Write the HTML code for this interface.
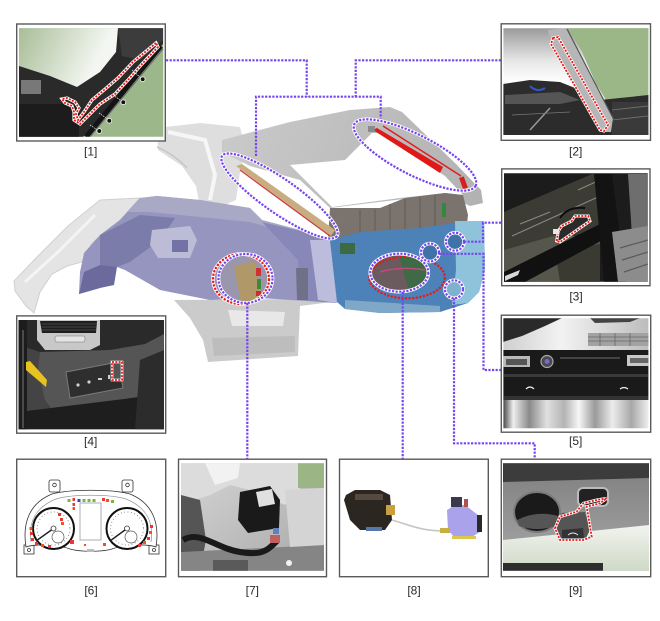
<!DOCTYPE html>
<html><head><meta charset="utf-8"><style>
html,body{margin:0;padding:0;background:#fff;}
svg{display:block;}
text{font-family:"Liberation Sans",Arial,sans-serif;font-size:12px;fill:#2a2a2a;}
</style></head><body>
<svg width="660" height="621" viewBox="0 0 660 621" xmlns="http://www.w3.org/2000/svg">
<defs>
<clipPath id="c1"><rect x="19" y="28.3" width="144.3" height="108.4"/></clipPath>
<clipPath id="c2"><rect x="503.4" y="28.3" width="145" height="106.7"/></clipPath>
<clipPath id="c3"><rect x="504" y="173.3" width="143.7" height="108.4"/></clipPath>
<clipPath id="c4"><rect x="18.5" y="320" width="145.5" height="109.3"/></clipPath>
<clipPath id="c5"><rect x="503.4" y="318.3" width="145" height="110"/></clipPath>
<clipPath id="c7"><rect x="181" y="463.3" width="143" height="107.4"/></clipPath>
<clipPath id="c9"><rect x="503" y="463.3" width="146" height="107.4"/></clipPath>
<clipPath id="cE8"><ellipse cx="399.3" cy="272.7" rx="29" ry="19"/></clipPath>
<clipPath id="cC7"><ellipse cx="245.5" cy="278.5" rx="27" ry="24.5"/></clipPath>
<linearGradient id="g1a" gradientUnits="userSpaceOnUse" x1="19" y1="28" x2="95" y2="65"><stop offset="0" stop-color="#a7bd96"/><stop offset="1" stop-color="#f3f6f1"/></linearGradient>
<linearGradient id="g2" x1="0" y1="0" x2="0" y2="1"><stop offset="0" stop-color="#9a9a9a"/><stop offset="0.3" stop-color="#e6e6e6"/><stop offset="0.5" stop-color="#ffffff"/><stop offset="0.8" stop-color="#cbd9c0"/><stop offset="1" stop-color="#b8cca8"/></linearGradient>
<linearGradient id="gLid" gradientUnits="userSpaceOnUse" x1="222" y1="120" x2="480" y2="200"><stop offset="0" stop-color="#cacaca"/><stop offset="1" stop-color="#b2b2b2"/></linearGradient>
<linearGradient id="g5b" x1="0" y1="0" x2="1" y2="0"><stop offset="0" stop-color="#444"/><stop offset="0.07" stop-color="#eee"/><stop offset="0.18" stop-color="#8a8a8a"/><stop offset="0.3" stop-color="#e0e0e0"/><stop offset="0.42" stop-color="#b4b4b4"/><stop offset="0.52" stop-color="#f6f6f6"/><stop offset="0.63" stop-color="#9a9a9a"/><stop offset="0.75" stop-color="#ececec"/><stop offset="0.88" stop-color="#a8a8a8"/><stop offset="1" stop-color="#f0f0f0"/></linearGradient>
<linearGradient id="g5t" x1="0" y1="0" x2="1" y2="0"><stop offset="0" stop-color="#cfcfcf"/><stop offset="0.4" stop-color="#f2f2f2"/><stop offset="0.7" stop-color="#d8d8d8"/><stop offset="1" stop-color="#bcbcbc"/></linearGradient>
<linearGradient id="g9" x1="0" y1="0" x2="0" y2="1"><stop offset="0" stop-color="#7e7e7e"/><stop offset="1" stop-color="#a9a9a9"/></linearGradient>
<linearGradient id="g9b" x1="0" y1="0" x2="0" y2="1"><stop offset="0" stop-color="#f2f4ef"/><stop offset="1" stop-color="#cfd9c6"/></linearGradient>
<linearGradient id="g7" x1="0" y1="0" x2="1" y2="1"><stop offset="0" stop-color="#d6d6d6"/><stop offset="1" stop-color="#a8a8a8"/></linearGradient>
</defs>

<!-- ============ CAR BODY ============ -->
<path d="M100,200 L140,198 L120,220 L92,243 L82,262 L67,266 L52,274 L40,292 L34,313 L26,306 L15,291 L14,281 L38,256 L68,226 Z" fill="#e4e4e4" stroke="#d0d0d0" stroke-width="1"/>
<path d="M25,282 L60,250 L95,215" stroke="#f4f4f4" stroke-width="3" fill="none"/>
<path d="M157,128 L200,123 L240,127 L246,150 L240,172 L236,200 L222,206 L200,206 L196,186 L182,166 L158,150 Z" fill="#dedede"/>
<path d="M168,132 L205,140 L215,175 L210,200" stroke="#f6f6f6" stroke-width="4" fill="none"/>
<path d="M157,147 Q175,155 187,168" stroke="#c4c4c4" stroke-width="1.5" fill="none"/>
<path d="M174,300 L300,299 L332,302 L300,306 L298,356 L208,362 L203,340 L190,318 Z" fill="#cbcbcb"/>
<path d="M228,310 L285,312 L283,326 L232,326 Z" fill="#e8e8e8"/>
<path d="M212,338 L295,336 L295,352 L214,356 Z" fill="#bdbdbd"/>
<path d="M140,198 L157,196 L200,200 L250,208 L262,220 L330,238 L337,303 L260,298 L210,300 L160,290 L125,270 L117,267 L100,288 L79,294 L80,272 L84,253 L100,235 L120,220 Z" fill="#9595c0"/>
<path d="M140,198 L157,196 L200,200 L250,208 L262,220 L330,238 L325,244 L250,222 L150,212 L128,212 Z" fill="#a9a9c6"/>
<path d="M100,235 L140,215 L175,218 L160,240 L130,262 L117,267 L100,270 Z" fill="#7c7cab"/>
<path d="M84,272 L100,265 L117,267 L114,285 L100,288 L79,294 Z" fill="#6a6a9c"/>
<path d="M152,230 L190,226 L197,240 L190,258 L158,258 L150,245 Z" fill="#bcbcd6"/>
<rect x="172" y="240" width="16" height="12" fill="#7272a6"/>
<path d="M262,222 L330,238 L337,303 L300,300 L298,260 Z" fill="#8888b8"/>
<path d="M296,268 L308,268 L308,300 L297,300 Z" fill="#707088"/>
<path d="M310,240 L330,240 L337,303 L318,300 Z" fill="#bcbcdc"/>
<path d="M222,140 L237,136 L290,122 L350,110 L390,107 L402,112 L455,163 L481,190 L483,203 L470,206 L445,194 L330,208 L300,180 L250,166 L222,152 Z" fill="url(#gLid)"/>
<path d="M290,165 L345,160 L372,133 L380,133 L445,176 L463,195 L445,193 L400,198 L332,207 Z" fill="#ffffff"/>
<path d="M330,208 L380,208 L405,198 L445,193 L463,195 L468,215 L466,232 L400,232 L338,242 L328,238 Z" fill="#7a736e"/>
<g stroke="#625c58" stroke-width="1"><line x1="360" y1="210" x2="360" y2="236"/><line x1="375" y1="209" x2="375" y2="234"/><line x1="390" y1="204" x2="390" y2="232"/><line x1="405" y1="199" x2="405" y2="231"/><line x1="420" y1="197" x2="420" y2="230"/><line x1="435" y1="195" x2="435" y2="229"/></g>
<rect x="442" y="203" width="4" height="14" fill="#2f8a3a"/>
<path d="M330,240 L360,232 L420,228 L462,222 L484,221 L485,270 L479,292 L468,303 L440,312 L380,313 L345,309 L337,302 Z" fill="#4d82b8"/>
<path d="M455,221 L484,221 L485,270 L479,292 L468,303 L452,305 L456,270 Z" fill="#8fc3dc"/>
<path d="M345,300 L440,306 L440,312 L380,313 L345,309 Z" fill="#7fa8c8"/>
<rect x="340" y="243" width="15" height="11" fill="#3d6a42"/>
<g clip-path="url(#cE8)"><rect x="368" y="252" width="64" height="42" fill="#6b5a5e"/><path d="M398,252 L432,252 L432,294 L410,294 Z" fill="#3e6a46"/><path d="M380,272 Q400,266 425,270" stroke="#c04a7a" stroke-width="1.5" fill="none"/></g>
<g clip-path="url(#cC7)"><rect x="215" y="252" width="60" height="54" fill="#9a96ae"/><path d="M234,266 L255,261 L262,298 L241,303 Z" fill="#b09868"/><rect x="256" y="268" width="5" height="8" fill="#d03030"/><rect x="257" y="279" width="4" height="10" fill="#3a8a3a"/><rect x="256" y="291" width="5" height="5" fill="#c83030"/></g>
<path d="M236,166 L242,164 L335,230 L331,236 Z" fill="#c9ad80"/>
<line x1="240" y1="170" x2="330" y2="236" stroke="#c83a3a" stroke-width="1.3"/>
<path d="M373,130 L377,128 L443,167 L440,173 Z" fill="#e01818"/>
<line x1="372" y1="136" x2="440" y2="176" stroke="#ffffff" stroke-width="2"/>
<line x1="383" y1="126" x2="461" y2="176" stroke="#e02020" stroke-width="1.5"/>
<rect x="461" y="177" width="5" height="12" fill="#d42020" transform="rotate(-20 463 183)"/>
<rect x="368" y="126" width="7" height="6" fill="#8a8a8a"/>

<g fill="none" stroke-linecap="butt">
<ellipse cx="241" cy="279" rx="28" ry="25" stroke="#fff" stroke-width="3.5"/>
<ellipse cx="241" cy="279" rx="28" ry="25" stroke="#e81818" stroke-width="2.2" stroke-dasharray="2.2 1.4"/>
<ellipse cx="407" cy="277.5" rx="37.8" ry="20.8" stroke="#e81818" stroke-width="2.2" stroke-dasharray="2.2 1.4"/>
</g>

<g fill="none" stroke="#7744ee" stroke-width="2.2" stroke-dasharray="2.2 1.4">
<ellipse cx="279.5" cy="196" rx="70" ry="17" transform="rotate(35 279.5 196)" stroke="#fff" stroke-width="3.6" stroke-dasharray="none"/>
<ellipse cx="279.5" cy="196" rx="70" ry="17" transform="rotate(35 279.5 196)"/>
<ellipse cx="415" cy="155" rx="68" ry="20" transform="rotate(27 415 155)" stroke="#fff" stroke-width="3.6" stroke-dasharray="none"/>
<ellipse cx="415" cy="155" rx="68" ry="20" transform="rotate(27 415 155)"/>
<ellipse cx="245.5" cy="278.5" rx="27" ry="24.5" stroke="#fff" stroke-width="3.6" stroke-dasharray="none"/>
<ellipse cx="245.5" cy="278.5" rx="27" ry="24.5"/>
<ellipse cx="399.3" cy="272.7" rx="29" ry="19" stroke="#fff" stroke-width="3.6" stroke-dasharray="none"/>
<ellipse cx="399.3" cy="272.7" rx="29" ry="19"/>
<circle cx="455" cy="241.7" r="9" fill="#3f72a8" stroke="#fff" stroke-width="3.6" stroke-dasharray="none"/>
<circle cx="455" cy="241.7" r="9"/>
<circle cx="430" cy="252.5" r="9" fill="#3f72a8" stroke="#fff" stroke-width="3.6" stroke-dasharray="none"/>
<circle cx="430" cy="252.5" r="9"/>
<circle cx="454" cy="289.3" r="9" fill="#7fb2d0" stroke="#fff" stroke-width="3.6" stroke-dasharray="none"/>
<circle cx="454" cy="289.3" r="9"/>
<path d="M166,60.3 H306.7 V96.7"/>
<path d="M501,60.3 H355.7 V96.7"/>
<path d="M256,156 V96.7 H380.7 V118.5"/>
<path d="M464,241.7 H483 V222.7 H501.7"/>
<path d="M439,253.8 H483.5 V370 H501.3"/>
<path d="M247.3,303 V459"/>
<path d="M402.7,292 V459"/>
<path d="M454,298.3 V443.3 H534.7 V459"/>
</g>

<!-- ============ BOX 1 ============ -->
<rect x="16.7" y="24" width="148.6" height="117" fill="#fff" stroke="#5a5a5a" stroke-width="1.4"/>
<g clip-path="url(#c1)">
<rect x="19" y="28" width="145" height="110" fill="#9cb789"/>
<path d="M19,28 L118,28 L117,53 L100,73 L77,88 L50,78 L19,68 Z" fill="url(#g1a)"/>
<path d="M19,66 L50,76 L77,87 L100,72 L116,52 L118,28 L163,28 L163,44 L150,58 L83,137 L19,137 Z" fill="#2a2a2a"/>
<path d="M118,28 L163,28 L163,40 L140,60 L122,56 Z" fill="#3c3c3c"/>
<rect x="21" y="80" width="20" height="14" fill="#9a9a9a" opacity="0.7"/>
<rect x="19" y="104" width="60" height="33" fill="#1c1c1c"/>
<line x1="161" y1="46" x2="86" y2="137" stroke="#141414" stroke-width="5"/>
<line x1="163" y1="49" x2="90" y2="137" stroke="#6a6a6a" stroke-width="1"/>
<g stroke="#ddd" stroke-width="0.8" stroke-dasharray="1.5 1"><line x1="132" y1="70" x2="142" y2="79"/><line x1="113" y1="95" x2="123" y2="102"/><line x1="99" y1="113" x2="109" y2="120"/><line x1="90" y1="125" x2="99" y2="131"/></g>
<g fill="#111" stroke="#fff" stroke-width="0.8"><circle cx="142.7" cy="79.3" r="2.4"/><circle cx="123.3" cy="102.3" r="2.4"/><circle cx="109.3" cy="120.7" r="2.4"/><circle cx="99.3" cy="131" r="2.4"/></g>
<path d="M156,43 L133,62 L118,78 L104,90 L92,100 L84,112 L78,120 L76,114 L79,108 L75,102 L67,98 L62,99 L65,103 L72,106 L74,112 L74,120 L80,124 L90,114 L100,104 L115,94 L128,80 L142,64 L158,47 Z" fill="none" stroke="#fff" stroke-width="3.2"/>
<path d="M156,43 L133,62 L118,78 L104,90 L92,100 L84,112 L78,120 L76,114 L79,108 L75,102 L67,98 L62,99 L65,103 L72,106 L74,112 L74,120 L80,124 L90,114 L100,104 L115,94 L128,80 L142,64 L158,47 Z" fill="none" stroke="#e81818" stroke-width="1.8" stroke-dasharray="2 1.3"/>
</g>
<text x="90.7" y="155.3" text-anchor="middle">[1]</text>

<!-- ============ BOX 2 ============ -->
<rect x="501.2" y="23.8" width="149.3" height="116.5" fill="#fff" stroke="#5a5a5a" stroke-width="1.4"/>
<g clip-path="url(#c2)">
<rect x="503" y="28" width="146" height="108" fill="url(#g2)"/>
<path d="M568,28 L649,28 L649,100 L606,100 L596,84 L582,52 Z" fill="#9bb687"/>
<path d="M503,84 L530,80 L560,82 L585,92 L600,100 L649,95 L649,136 L503,136 Z" fill="#2c2c2c"/>
<path d="M505,95 L560,92 L580,100 L560,104 L505,104 Z" fill="#555"/>
<path d="M530,86 Q537,93 545,88" stroke="#3355cc" stroke-width="2" fill="none"/>
<line x1="530" y1="130" x2="550" y2="108" stroke="#999" stroke-width="1.5"/>
<rect x="612" y="102" width="36" height="34" fill="#3a3a3a"/>
<g stroke="#777" stroke-width="0.8"><line x1="612" y1="110" x2="648" y2="106"/><line x1="612" y1="120" x2="648" y2="116"/><line x1="512" y1="115" x2="570" y2="112"/></g>
<path d="M548,30 L566,28 L613,118 L611,132 L600,132 L551,46 Z" fill="#b6b6b6"/>
<line x1="567" y1="29" x2="614" y2="120" stroke="#555" stroke-width="1.2"/>
<path d="M553,38 L558,37 L608,125 L604,131 L600,130 L551,44 Z" fill="none" stroke="#fff" stroke-width="3"/>
<path d="M553,38 L558,37 L608,125 L604,131 L600,130 L551,44 Z" fill="none" stroke="#e81818" stroke-width="1.8" stroke-dasharray="2 1.3"/>
</g>
<text x="575.7" y="155.3" text-anchor="middle">[2]</text>

<!-- ============ BOX 3 ============ -->
<rect x="501.7" y="168.9" width="148.3" height="116.8" fill="#fff" stroke="#5a5a5a" stroke-width="1.4"/>
<g clip-path="url(#c3)">
<rect x="504" y="173" width="144" height="109" fill="#1c1c1c"/>
<path d="M504,212 L592,174 L606,174 L606,226 L560,240 L504,258 Z" fill="#3c3c35"/>
<g stroke="#8a8a84" stroke-width="1"><line x1="512" y1="236" x2="598" y2="197"/><line x1="578" y1="190" x2="600" y2="180"/><line x1="520" y1="224" x2="550" y2="212"/></g>
<path d="M504,250 L560,234 L600,240 L600,282 L504,282 Z" fill="#56564c"/>
<path d="M555,250 L600,244 L600,282 L560,282 Z" fill="#3a3a32"/>
<path d="M504,272 L600,224 L610,236 L525,282 L504,282 Z" fill="#111"/>
<path d="M505,276 L520,270 L518,275 L505,281 Z" fill="#d8d8d8"/>
<path d="M594,174 L612,174 L626,282 L604,282 Z" fill="#131313"/>
<path d="M628,174 L648,174 L648,232 L632,236 Z" fill="#6e6e6e"/>
<path d="M612,232 L648,226 L648,282 L618,282 Z" fill="#8c8c8c"/>
<g stroke="#5a5a5a" stroke-width="1.2"><line x1="620" y1="248" x2="648" y2="240"/><line x1="622" y1="260" x2="648" y2="252"/><line x1="624" y1="272" x2="648" y2="264"/></g>
<path d="M560,218 Q568,206 585,208" stroke="#0d0d0d" stroke-width="2" fill="none"/>
<path d="M556.7,241 L558.3,231 L561.7,226 L571.7,221 L575,216 L588.3,216 L590,221 L560,242 Z" fill="#2a2a2a" stroke="#fff" stroke-width="3"/>
<path d="M556.7,241 L558.3,231 L561.7,226 L571.7,221 L575,216 L588.3,216 L590,221 L560,242 Z" fill="none" stroke="#e81818" stroke-width="1.8" stroke-dasharray="2 1.3"/>
<rect x="553" y="229" width="6" height="5" fill="#e8e8e8"/>
</g>
<text x="576" y="300.3" text-anchor="middle">[3]</text>

<!-- ============ BOX 4 ============ -->
<rect x="16.7" y="315.9" width="149" height="117.3" fill="#fff" stroke="#5a5a5a" stroke-width="1.4"/>
<g clip-path="url(#c4)">
<rect x="18" y="320" width="146" height="110" fill="#444"/>
<path d="M18,320 L164,320 L164,335 L145,346 L110,352 L40,352 L18,345 Z" fill="#2a2a2a"/>
<path d="M40,352 L110,350 L145,344 L164,334 L164,350 L145,395 L125,412 L60,420 L45,400 L38,370 Z" fill="#555"/>
<path d="M18,412 L164,394 L164,430 L18,430 Z" fill="#1e1e1e"/>
<path d="M140,360 L164,350 L164,430 L135,430 Z" fill="#2c2c2c"/>
<path d="M37,320 L100,320 L100,345 L90,350 L45,350 L37,340 Z" fill="#c8c8c8"/>
<path d="M40,321 L97,321 L96,333 L42,333 Z" fill="#1e1e1e"/>
<g stroke="#555" stroke-width="0.8"><line x1="42" y1="324" x2="96" y2="324"/><line x1="42" y1="327" x2="96" y2="327"/><line x1="42" y1="330" x2="96" y2="330"/></g>
<rect x="55" y="336" width="30" height="6" rx="2" fill="#e4e4e4" stroke="#777" stroke-width="0.6"/>
<rect x="18" y="320" width="9" height="110" fill="#1c1c1c"/>
<line x1="23" y1="330" x2="23" y2="428" stroke="#777" stroke-width="1"/>
<path d="M26,362 L30,361 L47,380 L46,387 L26,370 Z" fill="#e8c21e"/>
<path d="M66,372 L118,362 L123,388 L70,398 Z" fill="#2e2e2e" stroke="#7a7a7a" stroke-width="1"/>
<g fill="#cfcfcf"><circle cx="78" cy="385" r="1.6"/><circle cx="89" cy="382" r="1.6"/><rect x="98" y="378" width="4" height="2"/><rect x="108" y="375" width="2" height="4"/></g>
<rect x="112" y="362" width="10" height="18" fill="#555" stroke="#fff" stroke-width="2.6"/>
<rect x="112" y="362" width="10" height="18" fill="none" stroke="#e81818" stroke-width="1.8" stroke-dasharray="2 1.3"/>
</g>
<text x="90.7" y="445.3" text-anchor="middle">[4]</text>

<!-- ============ BOX 5 ============ -->
<rect x="501.3" y="315.2" width="149.4" height="117" fill="#fff" stroke="#5a5a5a" stroke-width="1.4"/>
<g clip-path="url(#c5)">
<rect x="503" y="318" width="146" height="33" fill="url(#g5t)"/>
<path d="M503,318 L562,318 L545,326 L522,336 L503,342 Z" fill="#2a2a2a"/>
<path d="M590,318 L640,318 L630,322 L595,323 Z" fill="#444"/>
<rect x="588" y="333" width="61" height="13" fill="#a2a2a2"/>
<g stroke="#666" stroke-width="0.8"><line x1="588" y1="337" x2="649" y2="337"/><line x1="588" y1="341" x2="649" y2="341"/><line x1="600" y1="333" x2="600" y2="346"/><line x1="615" y1="333" x2="615" y2="346"/><line x1="630" y1="333" x2="630" y2="346"/></g>
<rect x="503" y="350" width="146" height="46" fill="#1a1a1a"/>
<rect x="503" y="374" width="146" height="3" fill="#3a3a3a"/>
<rect x="503" y="356" width="27" height="11" fill="#b8b8b8"/>
<rect x="506" y="359" width="21" height="6" fill="#555"/>
<rect x="627" y="355" width="22" height="11" fill="#c8c8c8"/>
<rect x="630" y="358" width="19" height="5" fill="#666"/>
<circle cx="547" cy="361.5" r="6" fill="#4a4a4a" stroke="#aaa" stroke-width="1.2"/>
<circle cx="547" cy="361.5" r="2.5" fill="#7a68d0"/>
<rect x="560" y="357" width="60" height="2" fill="#444"/>
<path d="M526,389 Q530,385 534,389" stroke="#eee" stroke-width="1.2" fill="none"/>
<path d="M620,389 Q624,386 628,389" stroke="#eee" stroke-width="1.2" fill="none"/>
<rect x="503" y="396" width="146" height="33" fill="url(#g5b)"/>
<rect x="503" y="396" width="146" height="4" fill="#333"/>
</g>
<text x="575.7" y="445" text-anchor="middle">[5]</text>

<!-- ============ BOX 6 ============ -->
<rect x="16.7" y="459.2" width="149" height="117.5" fill="#fff" stroke="#5a5a5a" stroke-width="1.4"/>
<g stroke="#333" fill="#fff" stroke-width="0.8">
<rect x="49" y="480" width="11" height="12" rx="2"/><circle cx="54.5" cy="485" r="1.8"/>
<rect x="122" y="480" width="11" height="12" rx="2"/><circle cx="127.5" cy="485" r="1.8"/>
<rect x="24" y="545" width="10" height="9"/><circle cx="29" cy="550" r="1.5"/>
<rect x="149" y="545" width="10" height="9"/><circle cx="154" cy="550" r="1.5"/>
<path d="M26,547 C22,522 30,503 52,494 C70,489 112,489 130,494 C152,503 160,522 156,547 C148,544 125,544 112,549 C102,552 80,552 70,549 C57,544 34,544 26,547 Z"/>
<path d="M31,542 C28,522 36,507 56,499 C72,494 110,494 126,499 C146,507 154,522 151,542" fill="none" stroke="#999"/>
</g>
<rect x="80" y="503" width="21" height="37" fill="#fff" stroke="#999" stroke-width="0.8"/>
<rect x="87" y="549" width="7" height="3" fill="#bbb"/>
<g>
<circle cx="53.5" cy="528.5" r="20.5" fill="#fff" stroke="#111" stroke-width="2"/>
<circle cx="53.5" cy="528.5" r="16.5" fill="none" stroke="#777" stroke-width="1" stroke-dasharray="0.8 2.6"/>
<circle cx="58" cy="537" r="6" fill="none" stroke="#555" stroke-width="0.7"/>
<line x1="53.5" y1="528.5" x2="36" y2="541" stroke="#222" stroke-width="1.4"/>
<circle cx="53.5" cy="528.5" r="2.5" fill="#fff" stroke="#333" stroke-width="0.8"/>
<circle cx="127" cy="528.5" r="20.5" fill="#fff" stroke="#111" stroke-width="2"/>
<circle cx="127" cy="528.5" r="16.5" fill="none" stroke="#777" stroke-width="1" stroke-dasharray="0.8 2.6"/>
<circle cx="131" cy="537" r="6" fill="none" stroke="#555" stroke-width="0.7"/>
<line x1="127" y1="528.5" x2="110" y2="541" stroke="#222" stroke-width="1.4"/>
<circle cx="127" cy="528.5" r="2.5" fill="#fff" stroke="#333" stroke-width="0.8"/>
</g>
<g>
<rect x="67.5" y="499" width="3" height="3" fill="#7cb342"/><rect x="72.5" y="498" width="2.5" height="3" fill="#e53935"/><rect x="77.5" y="499" width="3" height="3" fill="#3949ab"/>
<rect x="82.5" y="499" width="3" height="3" fill="#7cb342"/><rect x="87.5" y="499" width="3" height="3" fill="#7cb342"/><rect x="92.5" y="499" width="3" height="3" fill="#7cb342"/>
<rect x="102" y="498" width="3" height="3" fill="#e53935"/><rect x="106" y="499" width="3" height="3" fill="#f4511e"/><rect x="111" y="500" width="3" height="3" fill="#7cb342"/>
<rect x="72.5" y="503" width="2.5" height="3" fill="#e53935"/><rect x="72.5" y="507" width="2.5" height="3" fill="#f4511e"/>
<rect x="58" y="513" width="3" height="3" fill="#e53935"/><rect x="60" y="518" width="3" height="3" fill="#e53935"/><rect x="61" y="522" width="3" height="3" fill="#f4511e"/>
<rect x="29.5" y="527" width="3" height="3" fill="#f4511e"/><rect x="30" y="532" width="3" height="3" fill="#e53935"/><rect x="31" y="538" width="3" height="3" fill="#e53935"/>
<rect x="35" y="542" width="3" height="3" fill="#e53935"/><rect x="41" y="544" width="3" height="3" fill="#f4511e"/><rect x="48" y="545" width="3" height="3" fill="#e53935"/>
<rect x="70" y="540" width="4" height="4" fill="#e53935"/><rect x="84" y="544" width="2" height="2" fill="#f4511e"/>
<rect x="103" y="543" width="3" height="3" fill="#f4511e"/><rect x="138" y="544" width="3" height="3" fill="#e53935"/><rect x="143" y="541" width="3" height="3" fill="#f4511e"/>
<rect x="147" y="537" width="3" height="3" fill="#e53935"/><rect x="149" y="531" width="3" height="3" fill="#f4511e"/><rect x="150" y="525" width="3" height="3" fill="#e53935"/>
</g>
<text x="91" y="594.3" text-anchor="middle">[6]</text>

<!-- ============ BOX 7 ============ -->
<rect x="178.5" y="459.2" width="148" height="117.5" fill="#fff" stroke="#5a5a5a" stroke-width="1.4"/>
<g clip-path="url(#c7)">
<rect x="181" y="463" width="143" height="108" fill="url(#g7)"/>
<path d="M181,463 L298,463 L300,490 L285,505 L250,490 L230,485 L210,495 L195,500 L181,495 Z" fill="#dcdcdc"/>
<path d="M205,463 L240,463 L238,478 L215,485 Z" fill="#f2f2f2"/>
<path d="M181,495 L200,500 L206,540 L200,571 L181,571 Z" fill="#555"/>
<path d="M181,552 L324,545 L324,571 L181,571 Z" fill="#858585"/>
<rect x="213" y="560" width="35" height="11" fill="#5a5a5a"/>
<circle cx="289" cy="563" r="3" fill="#f2f2f2"/>
<rect x="298" y="463" width="26" height="25" fill="#9bb585"/>
<path d="M285,490 L324,488 L324,545 L290,547 Z" fill="#d4d4d4"/>
<path d="M240,492 L270,486 L280,500 L279,528 L248,533 L238,520 Z" fill="#1a1a1a"/>
<path d="M256,492 L272,489 L275,504 L259,507 Z" fill="#e0e0e0"/>
<path d="M183,540 C200,530 215,548 240,552 S268,549 278,540" stroke="#1a1a1a" stroke-width="6" fill="none"/>
<rect x="270" y="535" width="10" height="8" fill="#c06060"/>
<rect x="273" y="528" width="6" height="6" fill="#6080c0"/>
</g>
<text x="252.3" y="594.3" text-anchor="middle">[7]</text>

<!-- ============ BOX 8 ============ -->
<rect x="339.5" y="459.2" width="148.8" height="117.5" fill="#fff" stroke="#5a5a5a" stroke-width="1.4"/>
<path d="M346,495 L355,490 L380,490 L390,495 L392,520 L385,530 L360,530 L350,520 L344,500 Z" fill="#2b2620"/>
<rect x="355" y="494" width="28" height="6" fill="#554a40"/>
<rect x="386" y="505" width="9" height="10" fill="#c8a040"/>
<rect x="366" y="527" width="16" height="4" fill="#5577aa"/>
<path d="M392,520 C410,525 420,531 445,531" stroke="#c6c6c6" stroke-width="1.6" fill="none"/>
<path d="M447,510 L455,505 L465,505 L478,515 L480,532 L470,538 L455,538 L448,530 Z" fill="#aaa2ea"/>
<rect x="451" y="497" width="11" height="10" fill="#3a3a4a"/>
<rect x="464" y="499" width="4" height="8" fill="#b05050"/>
<rect x="452" y="536" width="24" height="3" fill="#d8c850"/>
<rect x="477" y="515" width="5" height="17" fill="#2a2a2a"/>
<rect x="440" y="528" width="10" height="5" fill="#c8b040"/>
<text x="414" y="594.3" text-anchor="middle">[8]</text>

<!-- ============ BOX 9 ============ -->
<rect x="501.3" y="459.2" width="149.4" height="117.5" fill="#fff" stroke="#5a5a5a" stroke-width="1.4"/>
<g clip-path="url(#c9)">
<rect x="503" y="463" width="146" height="108" fill="url(#g9)"/>
<path d="M503,463 L649,463 L649,478 L503,482 Z" fill="#3c3c3c"/>
<path d="M503,540 L649,525 L649,571 L503,571 Z" fill="url(#g9b)"/>
<rect x="503" y="563" width="100" height="8" fill="#2e2e2e"/>
<ellipse cx="537" cy="512" rx="23" ry="20" fill="#1a1a1a" stroke="#7a7a7a" stroke-width="2"/>
<path d="M517,520 Q537,510 558,516 L556,526 Q537,532 519,526 Z" fill="#555"/>
<rect x="578" y="488" width="30" height="18" rx="5" fill="#222" stroke="#bbb" stroke-width="2"/>
<path d="M555,522 L562,513 L585,512 L590,530 L585,540 L558,540 Z" fill="#555"/>
<path d="M562,530 L583,528 L584,538 L562,539 Z" fill="#333"/>
<path d="M568,535 Q573,531 578,535" stroke="#eee" stroke-width="1" fill="none"/>
<path d="M555,528.3 L560,516.7 L576.7,511.7 L583.3,503.3 L596.7,500 L606.7,498.3 L600,503.3 L586.7,506.7 L591.7,536.7 L583.3,540 L560,540 Z" fill="none" stroke="#fff" stroke-width="3"/>
<path d="M555,528.3 L560,516.7 L576.7,511.7 L583.3,503.3 L596.7,500 L606.7,498.3 L600,503.3 L586.7,506.7 L591.7,536.7 L583.3,540 L560,540 Z" fill="none" stroke="#e81818" stroke-width="1.8" stroke-dasharray="2 1.3"/>
</g>
<text x="575.7" y="594.3" text-anchor="middle">[9]</text>
</svg>
</body></html>
